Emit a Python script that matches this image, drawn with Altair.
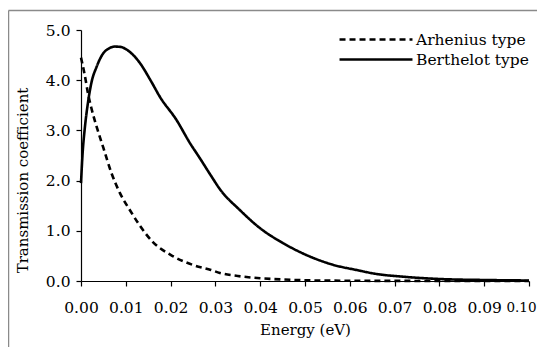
import altair as alt
import pandas as pd

# ---- data ----
series_names = ["Arhenius type", "Berthelot type"]

energy_arhenius = [0.0, 0.0008, 0.0016, 0.0023, 0.0035, 0.005, 0.0068, 0.0087, 0.011,
                   0.013, 0.016, 0.020, 0.025, 0.029, 0.031, 0.035, 0.040, 0.045,
                   0.050, 0.060, 0.070, 0.080, 0.090, 0.100]
coef_arhenius = [4.45, 4.12, 3.72, 3.45, 3.07, 2.65, 2.15, 1.75, 1.40,
                 1.12, 0.78, 0.52, 0.32, 0.22, 0.16, 0.10, 0.055, 0.03,
                 0.015, 0.005, 0.002, 0.001, 0.0, 0.0]

energy_berthelot = [0.0, 0.0004, 0.0008, 0.0016, 0.0023, 0.0035, 0.005, 0.0062, 0.0075,
                    0.009, 0.010, 0.013, 0.0157, 0.0176, 0.0213, 0.0243, 0.0265, 0.029,
                    0.031, 0.0355, 0.040, 0.045, 0.050, 0.056, 0.062, 0.0653, 0.0727,
                    0.080, 0.090, 0.100]
coef_berthelot = [1.95, 2.6, 3.0, 3.58, 3.94, 4.27, 4.54, 4.63, 4.67,
                  4.66, 4.62, 4.36, 3.97, 3.67, 3.21, 2.75, 2.45, 2.10,
                  1.83, 1.41, 1.05, 0.76, 0.53, 0.33, 0.21, 0.15, 0.08,
                  0.04, 0.02, 0.01]

x_ticks = [0.00, 0.01, 0.02, 0.03, 0.04, 0.05, 0.06, 0.07, 0.08, 0.09, 0.10]
y_ticks = [0.0, 1.0, 2.0, 3.0, 4.0, 5.0]

df = pd.concat([
    pd.DataFrame({"energy": energy_arhenius, "coef": coef_arhenius, "series": series_names[0]}),
    pd.DataFrame({"energy": energy_berthelot, "coef": coef_berthelot, "series": series_names[1]}),
], ignore_index=True)

FONT = "DejaVu Serif"
W, H = 448, 251
LAST = "datum.value >= 0.0999"

lines = alt.Chart(df).mark_line(color="black", strokeWidth=2.6, interpolate="monotone").encode(
    x=alt.X("energy:Q",
            scale=alt.Scale(domain=[0, 0.1], nice=False, zero=False),
            axis=alt.Axis(values=x_ticks, format=".2f", title="Energy (eV)",
                          labelPadding=14, titlePadding=7,
                          labelFlush=False, labelOverlap=False,
                          labelAlign={"condition": {"test": LAST, "value": "right"},
                                      "value": "center"},
                          labelOffset={"condition": {"test": LAST, "value": 7},
                                       "value": 0},
                          labelFontSize={"condition": {"test": LAST, "value": 13.5},
                                         "value": 15.5})),
    y=alt.Y("coef:Q",
            scale=alt.Scale(domain=[0, 5], nice=False),
            axis=alt.Axis(values=y_ticks, format=".1f", title="Transmission coefficient",
                          labelPadding=6, titleX=-59, titleY=150,
                          labelFlush=False, labelOverlap=False,
                          titleAlign="center", titleBaseline="middle")),
    strokeDash=alt.StrokeDash(
        "series:N",
        scale=alt.Scale(domain=series_names, range=[[6, 4], [1, 0]]),
        legend=alt.Legend(orient="none", legendX=284, legendY=-1.5, title=None,
                          symbolType="M-3.84,0H3.84", symbolSize=361, symbolStrokeWidth=2.6,
                          symbolStrokeColor="black", symbolFillColor="transparent",
                          labelFont=FONT, labelFontSize=15.5,
                          labelColor="black", labelOffset=29, rowPadding=0),
    ),
)

frame_src = pd.DataFrame({"k": [0]})
frame_left = alt.Chart(frame_src).mark_rule(color="#8a8a8a", strokeWidth=1.5).encode(
    x=alt.value(-72.5), y=alt.value(-19.5), y2=alt.value(H + 70))
frame_top = alt.Chart(frame_src).mark_rule(color="#8a8a8a", strokeWidth=1.5).encode(
    x=alt.value(-72.5), x2=alt.value(W + 20), y=alt.value(-19.5))

chart = alt.layer(frame_left, frame_top, lines).properties(
    width=W, height=H,
    padding={"left": 73, "top": 22, "right": 8, "bottom": 66},
    autosize=alt.AutoSizeParams(type="none"),
    background="white",
).configure_view(stroke=None).configure_axis(
    grid=False,
    domainColor="black", domainWidth=1.2,
    tickColor="black", tickSize=5, tickWidth=1.2,
    labelFont=FONT, labelColor="black",
    titleFont=FONT, titleFontSize=15, titleColor="black", titleFontWeight="normal",
).configure_axisY(labelFontSize=15.5)

chart.save("out.html", embed_options={"renderer": "svg", "actions": False})
